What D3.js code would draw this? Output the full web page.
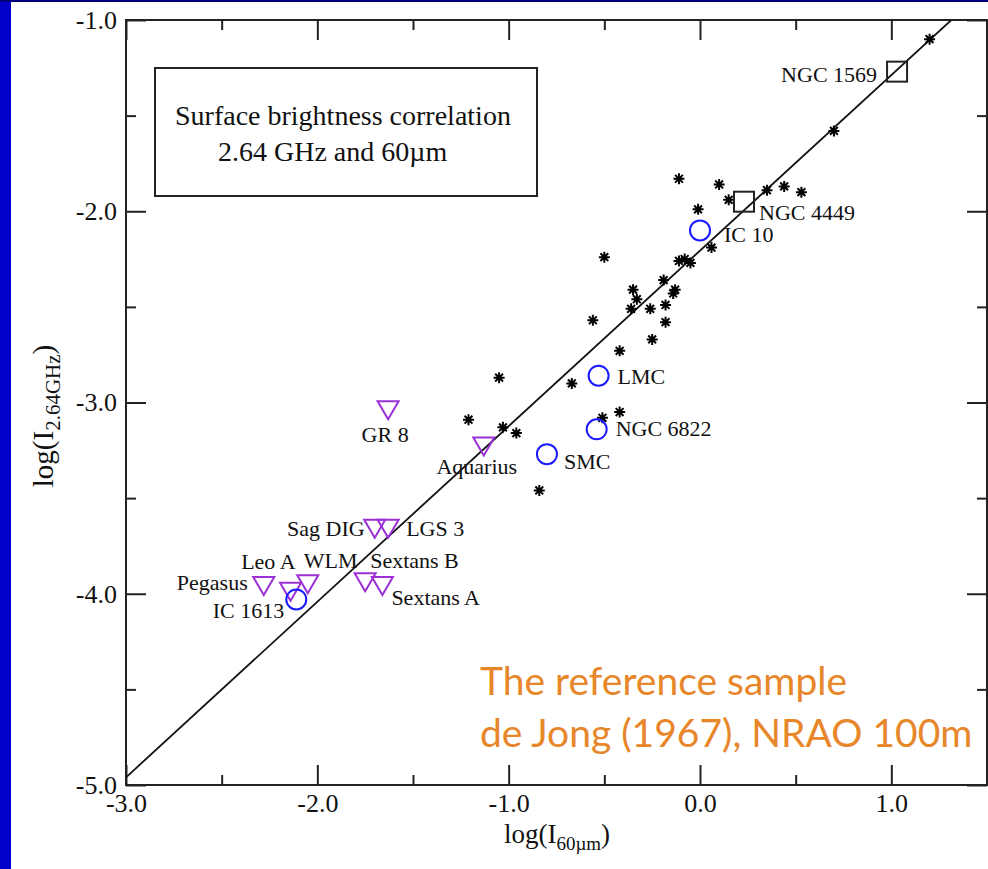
<!DOCTYPE html>
<html>
<head>
<meta charset="utf-8">
<script src="https://cdn.jsdelivr.net/npm/d3@7"></script>
<style>
body { margin: 0; background: #fff; }
svg { display: block; }
</style>
</head>
<body>
<script>
// reference sample (de Jong 1967) - asterisks
var starX = [1.20, 0.70, -0.11, 0.10, 0.15, 0.35, 0.44, 0.53, -0.01, 0.06, -0.50, -0.11, -0.08, -0.05,
    -0.19, -0.35, -0.33, -0.13, -0.14, -0.36, -0.26, -0.18, -0.56, -0.18, -0.25, -0.42, -1.05, -0.67,
    -0.42, -0.51, -1.21, -1.03, -0.96, -0.84];
var starY = [-1.10, -1.58, -1.83, -1.86, -1.94, -1.89, -1.87, -1.90, -1.99, -2.19, -2.24, -2.26, -2.25, -2.27,
    -2.36, -2.41, -2.46, -2.41, -2.43, -2.51, -2.51, -2.49, -2.57, -2.58, -2.67, -2.73, -2.87, -2.90,
    -3.05, -3.08, -3.09, -3.13, -3.16, -3.46];

// circles (blue)
var circleNames = ["IC 10", "LMC", "NGC 6822", "SMC", "IC 1613"];
var circleX = [0.00, -0.53, -0.54, -0.80, -2.11];
var circleY = [-2.10, -2.86, -3.14, -3.27, -4.03];

// squares
var squareNames = ["NGC 1569", "NGC 4449"];
var squareX = [1.03, 0.23];
var squareY = [-1.27, -1.95];

// triangles (purple)
var triNames = ["GR 8", "Aquarius", "Sag DIG", "LGS 3", "Pegasus", "Leo A", "WLM", "Sextans B", "Sextans A"];
var triX = [-1.63, -1.13, -1.70, -1.63, -2.28, -2.14, -2.05, -1.75, -1.66];
var triY = [-3.04, -3.23, -3.66, -3.66, -3.96, -3.99, -3.95, -3.94, -3.96];

// regression line
var fitSlope = 0.918, fitIntercept = -2.206;

var xMajor = [-3, -2, -1, 0, 1];
var xMinor = [-2.5, -1.5, -0.5, 0.5];
var yMajor = [-5, -4, -3, -2, -1];
var yMinor = [-4.5, -3.5, -2.5, -1.5];

// label placement relative to marker (pixels)
var labelPos = {
    "NGC 1569": [-20, 10, "end"],
    "NGC 4449": [15, 18, "start"],
    "IC 10": [24, 12, "start"],
    "LMC": [19, 8, "start"],
    "NGC 6822": [19, 7, "start"],
    "SMC": [17, 15, "start"],
    "IC 1613": [-12, 19, "end"],
    "GR 8": [-3, 32, "middle"],
    "Aquarius": [-7, 28, "middle"],
    "Sag DIG": [-10, 7, "end"],
    "LGS 3": [18, 7, "start"],
    "Pegasus": [-16, 4, "end"],
    "Leo A": [5, -23, "end"],
    "WLM": [-4, -16, "start"],
    "Sextans B": [5, -14, "start"],
    "Sextans A": [9, 19, "start"]
};

var width = 988, height = 869;
var serif = "'Liberation Serif', 'Times New Roman', serif";

var svg = d3.select("body").append("svg")
    .attr("width", width)
    .attr("height", height);

// slide decoration
svg.append("rect").attr("x", 0).attr("y", 0).attr("width", 11).attr("height", height).attr("fill", "#0000c8");
svg.append("rect").attr("x", 0).attr("y", 0).attr("width", width).attr("height", 2).attr("fill", "#00007a");

var x = d3.scaleLinear().domain([-3, 1.5]).range([126, 987]);
var y = d3.scaleLinear().domain([-5, -1]).range([785, 20]);

svg.append("defs").append("clipPath")
    .attr("id", "clip")
    .append("rect")
    .attr("x", 126).attr("y", 20)
    .attr("width", 861).attr("height", 765);

var fmt = function (d) { return d.toFixed(1); };

function styleAxis(g) {
    g.select(".domain").remove();
    g.selectAll(".tick line").attr("stroke", "#222").attr("stroke-width", 2);
    g.selectAll(".tick text").attr("font-family", serif).attr("font-size", 26).attr("fill", "#111");
}

// bottom
svg.append("g").attr("transform", "translate(0,785)")
    .call(d3.axisBottom(x).tickValues(xMajor).tickFormat(fmt).tickSizeInner(-20).tickSizeOuter(0).tickPadding(9))
    .call(styleAxis);
svg.append("g").attr("transform", "translate(0,785)")
    .call(d3.axisBottom(x).tickValues(xMinor).tickFormat("").tickSizeInner(-10).tickSizeOuter(0))
    .call(styleAxis);
// top
svg.append("g").attr("transform", "translate(0,20)")
    .call(d3.axisTop(x).tickValues(xMajor).tickFormat("").tickSizeInner(-20).tickSizeOuter(0))
    .call(styleAxis);
svg.append("g").attr("transform", "translate(0,20)")
    .call(d3.axisTop(x).tickValues(xMinor).tickFormat("").tickSizeInner(-10).tickSizeOuter(0))
    .call(styleAxis);
// left
svg.append("g").attr("transform", "translate(126,0)")
    .call(d3.axisLeft(y).tickValues(yMajor).tickFormat(fmt).tickSizeInner(-20).tickSizeOuter(0).tickPadding(9))
    .call(styleAxis);
svg.append("g").attr("transform", "translate(126,0)")
    .call(d3.axisLeft(y).tickValues(yMinor).tickFormat("").tickSizeInner(-10).tickSizeOuter(0))
    .call(styleAxis);
// right
svg.append("g").attr("transform", "translate(987,0)")
    .call(d3.axisRight(y).tickValues(yMajor).tickFormat("").tickSizeInner(-20).tickSizeOuter(0))
    .call(styleAxis);
svg.append("g").attr("transform", "translate(987,0)")
    .call(d3.axisRight(y).tickValues(yMinor).tickFormat("").tickSizeInner(-10).tickSizeOuter(0))
    .call(styleAxis);

// frame
svg.append("rect")
    .attr("x", 126).attr("y", 20)
    .attr("width", 861).attr("height", 765)
    .attr("fill", "none").attr("stroke", "#222").attr("stroke-width", 2);

// axis titles
var xt = svg.append("text")
    .attr("x", 557).attr("y", 843)
    .attr("text-anchor", "middle")
    .attr("font-family", serif).attr("font-size", 27).attr("fill", "#111");
xt.append("tspan").text("log(I");
xt.append("tspan").attr("font-size", 19).attr("dy", 7).text("60µm");
xt.append("tspan").attr("dy", -7).text(")");

var yt = svg.append("text")
    .attr("transform", "translate(53,416) rotate(-90)")
    .attr("text-anchor", "middle")
    .attr("font-family", serif).attr("font-size", 29).attr("fill", "#111");
yt.append("tspan").text("log(I");
yt.append("tspan").attr("font-size", 21).attr("dy", 7).text("2.64GHz");
yt.append("tspan").attr("dy", -7).text(")");

// regression line
var fitX = x.domain();
svg.append("line")
    .attr("clip-path", "url(#clip)")
    .attr("x1", x(fitX[0])).attr("y1", y(fitSlope * fitX[0] + fitIntercept))
    .attr("x2", x(fitX[1])).attr("y2", y(fitSlope * fitX[1] + fitIntercept))
    .attr("stroke", "#111").attr("stroke-width", 1.8);

// asterisks
var starPath = "M-5.5,0L5.5,0M0,-5.5L0,5.5M-3.9,-3.9L3.9,3.9M-3.9,3.9L3.9,-3.9";
svg.append("g").selectAll("path")
    .data(starX)
    .enter().append("path")
    .attr("transform", function (d, i) { return "translate(" + x(d) + "," + y(starY[i]) + ")"; })
    .attr("d", starPath)
    .attr("stroke", "#000").attr("stroke-width", 2);

// triangles
svg.append("g").selectAll("path")
    .data(triX)
    .enter().append("path")
    .attr("transform", function (d, i) { return "translate(" + x(d) + "," + y(triY[i]) + ")"; })
    .attr("d", "M-10.5,-9L10.5,-9L0,9Z")
    .attr("fill", "none").attr("stroke", "#9b30d6").attr("stroke-width", 2);

// circles
svg.append("g").selectAll("circle")
    .data(circleX)
    .enter().append("circle")
    .attr("cx", function (d) { return x(d); })
    .attr("cy", function (d, i) { return y(circleY[i]); })
    .attr("r", 10)
    .attr("fill", "none").attr("stroke", "#1a1aff").attr("stroke-width", 2);

// squares
svg.append("g").selectAll("rect")
    .data(squareX)
    .enter().append("rect")
    .attr("x", function (d) { return x(d) - 10; })
    .attr("y", function (d, i) { return y(squareY[i]) - 10; })
    .attr("width", 20).attr("height", 20)
    .attr("fill", "none").attr("stroke", "#222").attr("stroke-width", 2);

// labels
var labelled = [];
circleNames.forEach(function (n, i) { labelled.push({ name: n, x: circleX[i], y: circleY[i] }); });
squareNames.forEach(function (n, i) { labelled.push({ name: n, x: squareX[i], y: squareY[i] }); });
triNames.forEach(function (n, i) { labelled.push({ name: n, x: triX[i], y: triY[i] }); });

svg.append("g").selectAll("text")
    .data(labelled)
    .enter().append("text")
    .attr("x", function (d) { return x(d.x) + labelPos[d.name][0]; })
    .attr("y", function (d) { return y(d.y) + labelPos[d.name][1]; })
    .attr("text-anchor", function (d) { return labelPos[d.name][2]; })
    .attr("font-family", serif).attr("font-size", 22).attr("fill", "#111")
    .text(function (d) { return d.name; });

// legend box
svg.append("rect")
    .attr("x", 155).attr("y", 68)
    .attr("width", 382).attr("height", 128)
    .attr("fill", "none").attr("stroke", "#222").attr("stroke-width", 2);
svg.append("text")
    .attr("x", 175).attr("y", 125)
    .attr("font-family", serif).attr("font-size", 28).attr("fill", "#111")
    .text("Surface brightness correlation");
svg.append("text")
    .attr("x", 218).attr("y", 161)
    .attr("font-family", serif).attr("font-size", 28).attr("fill", "#111")
    .text("2.64 GHz and 60µm");

// slide annotation
var orange = "#e8862a";
svg.append("text")
    .attr("x", 480).attr("y", 695)
    .attr("font-family", "Lato, 'Open Sans', sans-serif").attr("font-size", 39).attr("fill", orange)
    .text("The reference sample");
svg.append("text")
    .attr("x", 480).attr("y", 747)
    .attr("font-family", "Lato, 'Open Sans', sans-serif").attr("font-size", 39).attr("fill", orange)
    .text("de Jong (1967), NRAO 100m");
</script>
</body>
</html>
